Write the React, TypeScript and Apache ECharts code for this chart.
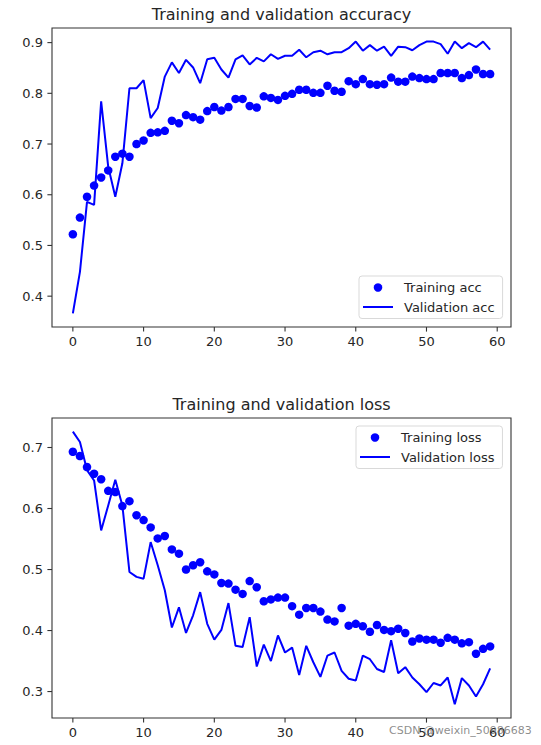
import React, { useEffect, useRef } from "react";
import * as echarts from "echarts";

const epochs: number[] = Array.from({ length: 60 }, (_, i) => i);

const trainAcc: number[] = [
  0.522, 0.555, 0.596, 0.618, 0.634, 0.648, 0.675, 0.681, 0.675, 0.7,
  0.707, 0.722, 0.723, 0.726, 0.746, 0.741, 0.757, 0.753, 0.748, 0.765,
  0.773, 0.766, 0.773, 0.789, 0.789, 0.775, 0.772, 0.794, 0.791, 0.787,
  0.795, 0.799, 0.807, 0.807, 0.801, 0.801, 0.815, 0.805, 0.803, 0.824,
  0.818, 0.828, 0.818, 0.817, 0.818, 0.831, 0.823, 0.823, 0.833, 0.83,
  0.828, 0.828, 0.84, 0.84, 0.84, 0.83, 0.836, 0.847, 0.838, 0.838,
];

const valAcc: number[] = [
  0.366, 0.448, 0.586, 0.58, 0.784, 0.655, 0.596, 0.662, 0.81, 0.81,
  0.826, 0.751, 0.771, 0.833, 0.861, 0.84, 0.866, 0.851, 0.82, 0.867,
  0.87, 0.847, 0.831, 0.867, 0.875, 0.857, 0.87, 0.863, 0.877, 0.868,
  0.874, 0.874, 0.886, 0.871, 0.881, 0.884, 0.877, 0.881, 0.881, 0.889,
  0.902, 0.884, 0.895, 0.884, 0.892, 0.874, 0.892, 0.891, 0.885, 0.895,
  0.902, 0.902, 0.897, 0.878, 0.902, 0.889, 0.899, 0.891, 0.902, 0.886,
];

const trainLoss: number[] = [
  0.693, 0.686, 0.668, 0.657, 0.648, 0.629, 0.627, 0.604, 0.612, 0.589,
  0.581, 0.569, 0.551, 0.555, 0.533, 0.526, 0.5, 0.507, 0.512, 0.497,
  0.492, 0.478, 0.477, 0.467, 0.46, 0.481, 0.471, 0.448, 0.451, 0.454,
  0.454, 0.44, 0.426, 0.437, 0.437, 0.431, 0.418, 0.415, 0.437, 0.408,
  0.411, 0.407, 0.398, 0.409, 0.401, 0.399, 0.403, 0.396, 0.382, 0.387,
  0.385, 0.385, 0.38, 0.388, 0.385, 0.379, 0.381, 0.362, 0.37, 0.374,
];

const valLoss: number[] = [
  0.726, 0.709, 0.663, 0.646, 0.564, 0.605, 0.647, 0.605, 0.496, 0.488,
  0.485, 0.545, 0.507, 0.466, 0.405, 0.438, 0.396, 0.425, 0.463, 0.411,
  0.385, 0.401, 0.445, 0.375, 0.373, 0.422, 0.341, 0.377, 0.35, 0.392,
  0.364, 0.372, 0.327, 0.375, 0.348, 0.324, 0.359, 0.364, 0.334, 0.321,
  0.318, 0.359, 0.353, 0.337, 0.332, 0.384, 0.33, 0.34, 0.323, 0.312,
  0.299, 0.314, 0.31, 0.323, 0.279, 0.322, 0.31, 0.292, 0.312, 0.338,
];

const xTicks: number[] = [0, 10, 20, 30, 40, 50, 60];
const accTicks: number[] = [0.4, 0.5, 0.6, 0.7, 0.8, 0.9];
const lossTicks: number[] = [0.3, 0.4, 0.5, 0.6, 0.7];

const titles: string[] = ["Training and validation accuracy", "Training and validation loss"];
const seriesNames: string[] = ["Training acc", "Validation acc", "Training loss", "Validation loss"];
const watermark = "CSDN @weixin_50986683";

const FONT = "'DejaVu Sans', Verdana, sans-serif";
const BLUE = "#0000ff";
const FRAME = "#333333";
const LINE_ICON = "path://M0,0H30V2H0Z";
const TICK_LEN = 4.6;

function autoRange(values: number[], margin = 0.05): [number, number] {
  const lo = Math.min(...values);
  const hi = Math.max(...values);
  const pad = (hi - lo) * margin;
  return [lo - pad, hi + pad];
}

export default function App() {
  const ref = useRef<HTMLDivElement>(null);

  useEffect(() => {
    if (!ref.current) return;
    const chart = echarts.init(ref.current, null, { renderer: "svg" });

    const [xMin, xMax] = autoRange(epochs);
    const [aMin, aMax] = autoRange([...trainAcc, ...valAcc]);
    const [lMin, lMax] = autoRange([...trainLoss, ...valLoss]);

    const xAxisCommon = (gridIndex: number) => ({
      type: "value" as const,
      gridIndex,
      position: "bottom" as const,
      min: xMin,
      max: xMax,
      splitLine: { show: false },
      axisLine: { show: false, onZero: false },
      axisTick: { show: false },
      axisLabel: {
        customValues: xTicks,
        margin: 8,
        color: "#262626",
        fontSize: 13,
        fontFamily: FONT,
      },
    });

    const yAxisCommon = (gridIndex: number, min: number, max: number, ticks: number[]) => ({
      type: "value" as const,
      gridIndex,
      position: "left" as const,
      min,
      max,
      splitLine: { show: false },
      axisLine: { show: false, onZero: false },
      axisTick: { show: false },
      axisLabel: {
        customValues: ticks,
        margin: 9,
        color: "#262626",
        fontSize: 13,
        fontFamily: FONT,
        formatter: (v: number) => v.toFixed(1),
      },
    });

    // tick marks drawn through the axes' own coordinate conversion
    const xTickSeries = (gridIndex: number, yMin: number) => ({
      type: "custom" as const,
      xAxisIndex: gridIndex,
      yAxisIndex: gridIndex,
      silent: true,
      clip: false,
      z: 5,
      data: xTicks.map((v) => [v, yMin]),
      renderItem: (_params: any, api: any) => {
        const p = api.coord([api.value(0), api.value(1)]);
        return {
          type: "line",
          shape: { x1: p[0], y1: p[1], x2: p[0], y2: p[1] + TICK_LEN },
          style: { stroke: FRAME, lineWidth: 1.1 },
        };
      },
    });

    const yTickSeries = (gridIndex: number, ticks: number[]) => ({
      type: "custom" as const,
      xAxisIndex: gridIndex,
      yAxisIndex: gridIndex,
      silent: true,
      clip: false,
      z: 5,
      data: ticks.map((v) => [xMin, v]),
      renderItem: (_params: any, api: any) => {
        const p = api.coord([api.value(0), api.value(1)]);
        return {
          type: "line",
          shape: { x1: p[0] - TICK_LEN, y1: p[1], x2: p[0], y2: p[1] },
          style: { stroke: FRAME, lineWidth: 1.1 },
        };
      },
    });

    const legendCommon = {
      orient: "vertical" as const,
      backgroundColor: "#ffffff",
      borderColor: "#d9d9d9",
      borderWidth: 1,
      borderRadius: 3,
      itemWidth: 30,
      itemHeight: 8.5,
      itemGap: 6.5,
      selectedMode: false,
      textStyle: {
        fontSize: 13,
        fontFamily: FONT,
        color: "#262626",
        padding: [0, 0, 0, 6],
      },
    };

    chart.setOption({
      animation: false,
      backgroundColor: "#ffffff",
      grid: [
        { left: 52, top: 28, width: 459, height: 299, show: true, borderColor: FRAME, borderWidth: 1.1, backgroundColor: "transparent" },
        { left: 52, top: 418, width: 459, height: 300, show: true, borderColor: FRAME, borderWidth: 1.1, backgroundColor: "transparent" },
      ],
      xAxis: [xAxisCommon(0), xAxisCommon(1)],
      yAxis: [
        yAxisCommon(0, aMin, aMax, accTicks),
        yAxisCommon(1, lMin, lMax, lossTicks),
      ],
      legend: [
        {
          ...legendCommon,
          left: 359,
          top: 276,
          padding: [5, 8, 5, 4],
          data: [
            { name: seriesNames[0], icon: "circle" },
            { name: seriesNames[1], icon: LINE_ICON },
          ],
        },
        {
          ...legendCommon,
          left: 356,
          top: 426,
          padding: [5, 8, 5, 4],
          data: [
            { name: seriesNames[2], icon: "circle" },
            { name: seriesNames[3], icon: LINE_ICON },
          ],
        },
      ],
      graphic: [
        {
          type: "text",
          x: 281.5,
          y: 14.5,
          style: { text: titles[0], textAlign: "center", textVerticalAlign: "middle", fill: "#262626", font: `16px ${FONT}` },
        },
        {
          type: "text",
          x: 281.5,
          y: 404.8,
          style: { text: titles[1], textAlign: "center", textVerticalAlign: "middle", fill: "#262626", font: `16px ${FONT}` },
        },
        {
          type: "text",
          x: 389,
          y: 730,
          z: 100,
          style: { text: watermark, textAlign: "left", textVerticalAlign: "middle", fill: "rgba(120,120,120,0.85)", font: `11px ${FONT}` },
        },
      ],
      series: [
        {
          name: seriesNames[0],
          type: "scatter",
          xAxisIndex: 0,
          yAxisIndex: 0,
          symbol: "circle",
          symbolSize: 8.5,
          itemStyle: { color: BLUE, opacity: 1 },
          data: epochs.map((e, i) => [e, trainAcc[i]]),
        },
        {
          name: seriesNames[1],
          type: "line",
          xAxisIndex: 0,
          yAxisIndex: 0,
          showSymbol: false,
          symbol: "none",
          lineStyle: { color: BLUE, width: 2 },
          itemStyle: { color: BLUE },
          data: epochs.map((e, i) => [e, valAcc[i]]),
        },
        {
          name: seriesNames[2],
          type: "scatter",
          xAxisIndex: 1,
          yAxisIndex: 1,
          symbol: "circle",
          symbolSize: 8.5,
          itemStyle: { color: BLUE, opacity: 1 },
          data: epochs.map((e, i) => [e, trainLoss[i]]),
        },
        {
          name: seriesNames[3],
          type: "line",
          xAxisIndex: 1,
          yAxisIndex: 1,
          showSymbol: false,
          symbol: "none",
          lineStyle: { color: BLUE, width: 2 },
          itemStyle: { color: BLUE },
          data: epochs.map((e, i) => [e, valLoss[i]]),
        },
        xTickSeries(0, aMin),
        xTickSeries(1, lMin),
        yTickSeries(0, accTicks),
        yTickSeries(1, lossTicks),
      ],
    });

    return () => chart.dispose();
  }, []);

  return (
    <div
      ref={ref}
      style={{ position: "absolute", left: 0, top: 0, width: 541, height: 745, background: "#fff" }}
    />
  );
}
